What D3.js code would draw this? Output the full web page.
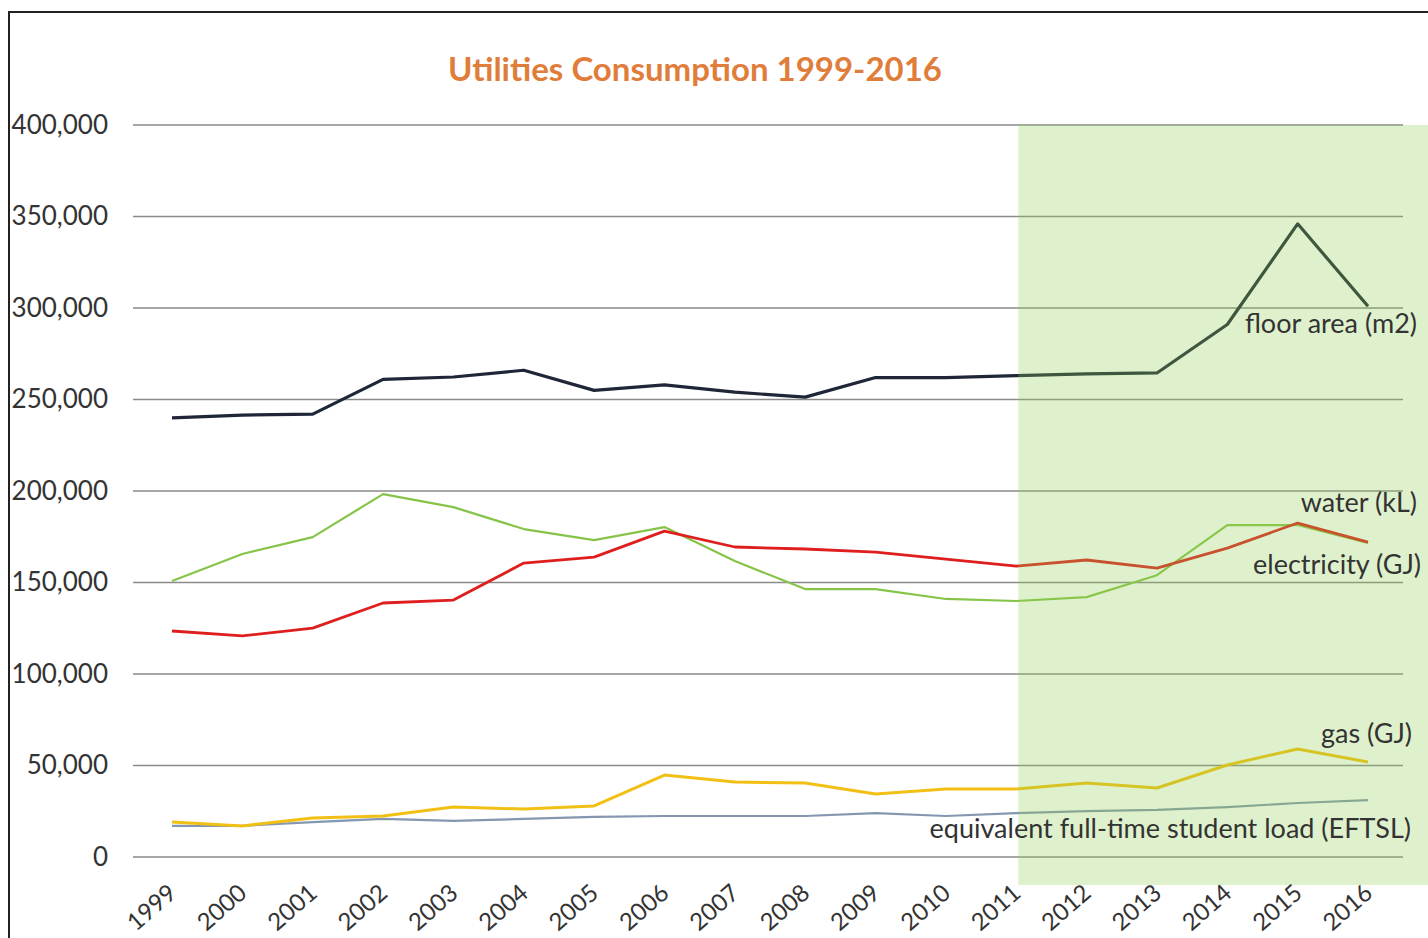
<!DOCTYPE html>
<html>
<head>
<meta charset="utf-8">
<script src="https://cdn.jsdelivr.net/npm/d3@7"></script>
<style>
html,body{margin:0;padding:0;background:#fff;}
svg{display:block;}
</style>
</head>
<body>
<script>
const years = ["1999","2000","2001","2002","2003","2004","2005","2006","2007","2008","2009","2010","2011","2012","2013","2014","2015","2016"];
const floorArea = [240000,241500,242000,261000,262300,266000,255000,258000,254000,251300,262000,262000,263000,264000,264500,291000,346000,301000];
const water = [150800,165600,174800,198300,191200,179200,173200,180300,161700,146400,146400,141000,139900,142000,154000,181400,181400,171600];
const electricity = [123500,120800,125100,138800,140400,160600,163900,178100,169400,168300,166600,162800,159000,162300,157900,168800,182500,172100];
const gas = [19100,17000,21300,22400,27300,26200,27900,44800,41000,40400,34400,37200,37200,40400,37700,50300,59000,51900];
const eftsl = [17000,17000,19100,20800,19700,20800,21900,22400,22400,22400,24000,22400,24000,25100,25700,27300,29500,31100];
const yTicks = [0,50000,100000,150000,200000,250000,300000,350000,400000];
const highlightFrom = "2011";
const title = "Utilities Consumption 1999-2016";

const W = 1428, H = 938;
const svg = d3.select("body").append("svg").attr("width", W).attr("height", H);
const font = "Lato, 'Open Sans', sans-serif";

// outer frame
svg.append("rect").attr("x", 9).attr("y", 12).attr("width", W + 20).attr("height", H + 20)
  .attr("fill", "#fff").attr("stroke", "#222").attr("stroke-width", 2);

const x = d3.scalePoint().domain(years).range([172, 1368]);
const y = d3.scaleLinear().domain([0, 400000]).range([857, 125]);

// title
svg.append("text").attr("x", 695).attr("y", 81).attr("text-anchor", "middle")
  .attr("font-family", font).attr("font-weight", "bold").attr("font-size", 33)
  .attr("fill", "#e07d3a").text(title);

// gridlines
svg.append("g").selectAll("line").data(yTicks).join("line")
  .attr("x1", 133).attr("x2", 1403)
  .attr("y1", d => y(d)).attr("y2", d => y(d))
  .attr("stroke", "#8a8a8a").attr("stroke-width", 1.5);

// y axis labels
const yAxis = d3.axisLeft(y).tickValues(yTicks).tickSize(0).tickPadding(0)
  .tickFormat(d3.format(","));
const gy = svg.append("g").attr("transform", "translate(108,0)").call(yAxis);
gy.select(".domain").remove();
gy.selectAll("text").attr("font-family", font).attr("font-size", 26).attr("fill", "#333");

// x axis labels
const xAxis = d3.axisBottom(x).tickSize(0).tickPadding(0);
const gx = svg.append("g").attr("transform", "translate(0,884)").call(xAxis);
gx.select(".domain").remove();
gx.selectAll("text").attr("font-family", font).attr("font-size", 24).attr("fill", "#333")
  .attr("text-anchor", "end").attr("dy", "0.35em")
  .attr("transform", "translate(0,5) rotate(-41)");

// lines
const line = d3.line().x((d, i) => x(years[i])).y(d => y(d));
const series = [
  {v: eftsl, c: "#8497b0", w: 2.2},
  {v: gas, c: "#f2c014", w: 3},
  {v: water, c: "#86c449", w: 2.2},
  {v: electricity, c: "#df1f1f", w: 2.8},
  {v: floorArea, c: "#1e2637", w: 3.2}
];
svg.append("g").selectAll("path").data(series).join("path")
  .attr("d", d => line(d.v)).attr("fill", "none")
  .attr("stroke", d => d.c).attr("stroke-width", d => d.w)
  .attr("stroke-linejoin", "round");

// highlight overlay
const hx = x(highlightFrom) + 2;
svg.append("rect").attr("x", hx).attr("y", y(400000)).attr("width", W - hx)
  .attr("height", 885 - y(400000)).attr("fill", "rgb(146,208,80)").attr("fill-opacity", 0.29);

// series labels
const labels = [
  {t: "floor area (m2)", x: 1417, y: 333},
  {t: "water (kL)", x: 1417, y: 512},
  {t: "electricity (GJ)", x: 1421, y: 574},
  {t: "gas (GJ)", x: 1412, y: 743},
  {t: "equivalent full-time student load (EFTSL)", x: 1411, y: 838}
];
svg.append("g").selectAll("text").data(labels).join("text")
  .attr("x", d => d.x).attr("y", d => d.y).attr("text-anchor", "end")
  .attr("font-family", font).attr("font-size", 27).attr("fill", "#333").text(d => d.t);
</script>
</body>
</html>
